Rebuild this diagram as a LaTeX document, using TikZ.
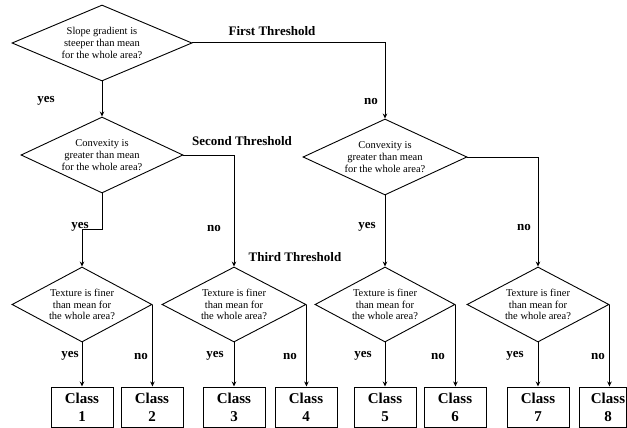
\documentclass[tikz,border=0pt]{standalone}
\usepackage{fontspec}
\setmainfont{Liberation Serif}
\usetikzlibrary{shapes.geometric,arrows.meta}
\begin{document}
\begin{tikzpicture}[x=1pt,y=-1pt,
  dia/.style={diamond, draw, line width=0.9pt, inner sep=0pt, align=center,
    font=\fontsize{10.5}{11.8}\selectfont},
  cbox/.style={draw, line width=1pt, minimum width=62pt, minimum height=40pt,
    inner sep=0pt, align=center, font=\bfseries\fontsize{15}{18}\selectfont},
  lbl/.style={font=\bfseries\fontsize{13}{15}\selectfont, inner sep=0pt},
  conn/.style={line width=1pt},
  arr/.style={conn, -{Stealth[length=5pt,width=4.5pt]}}
]
\useasboundingbox (0,0) rectangle (627,428);

% decision diamonds
\node[dia, aspect=2.37, minimum width=180pt, minimum height=76pt] (d1) at (102,43)
  {Slope gradient is\\steeper than mean\\for the whole area?};
\node[dia, aspect=2.13, minimum width=162pt, minimum height=76pt] (d2L) at (102,155)
  {Convexity is\\greater than mean\\for the whole area?};
\node[dia, aspect=2.16, minimum width=164pt, minimum height=76pt] (d2R) at (385,157)
  {Convexity is\\greater than mean\\for the whole area?};
\node[dia, aspect=1.87, minimum width=140pt, minimum height=75pt] (d3a) at (82,304.5)
  {Texture is finer\\than mean for\\the whole area?};
\node[dia, aspect=1.92, minimum width=144pt, minimum height=75pt] (d3b) at (234,304.5)
  {Texture is finer\\than mean for\\the whole area?};
\node[dia, aspect=1.87, minimum width=140pt, minimum height=75pt] (d3c) at (385,304.5)
  {Texture is finer\\than mean for\\the whole area?};
\node[dia, aspect=1.89, minimum width=142pt, minimum height=75pt] (d3d) at (538,304.5)
  {Texture is finer\\than mean for\\the whole area?};

% class boxes
\node[cbox] (c1) at (82,407) {Class\\1};
\node[cbox] (c2) at (152,407) {Class\\2};
\node[cbox] (c3) at (234,407) {Class\\3};
\node[cbox] (c4) at (306,407) {Class\\4};
\node[cbox] (c5) at (385,407) {Class\\5};
\node[cbox] (c6) at (455,407) {Class\\6};
\node[cbox] (c7) at (538,407) {Class\\7};
\node[cbox, minimum width=47pt] (c8) at (602.5,407) {\hspace*{11pt}Class\\\hspace*{11pt}8};

% connectors
\coordinate (k) at (82,229);
\draw[arr] (d1.east) -| (d2R.north);
\draw[arr] (d1.south) -- (d2L.north);
\draw[arr] (d2L.east) -| (d3b.north);
\draw[arr] (d2L.south) |- (k) -- (d3a.north);
\draw[arr] (d2R.east) -| (d3d.north);
\draw[arr] (d2R.south) -- (d3c.north);

\draw[arr] (d3a.south) -- (c1.north);
\draw[arr] (d3a.east) -- (d3a.east |- c2.north);
\draw[arr] (d3b.south) -- (c3.north);
\draw[arr] (d3b.east) -- (d3b.east |- c4.north);
\draw[arr] (d3c.south) -- (c5.north);
\draw[arr] (d3c.east) -- (d3c.east |- c6.north);
\draw[arr] (d3d.south) -- (c7.north);
\draw[arr] (d3d.east) -- (d3d.east |- c8.north);

% labels
\node[lbl] (t1) at (272,31) {First Threshold};
\node[lbl] (t2) at (242,141) {Second Threshold};
\node[lbl] (t3) at (295,257) {Third Threshold};

\node[lbl] (y1) at (46,101) {yes};
\node[lbl] (n1) at (371,102) {no};
\node[lbl] (y2) at (80,227) {yes};
\node[lbl] (n2) at (214,228) {no};
\node[lbl] (y3) at (367,227) {yes};
\node[lbl] (n3) at (524,227) {no};

\node[lbl] (y4) at (70,356) {yes};
\node[lbl] (n4) at (141,356) {no};
\node[lbl] (y5) at (215,356) {yes};
\node[lbl] (n5) at (290,356) {no};
\node[lbl] (y6) at (363,356) {yes};
\node[lbl] (n6) at (438,356) {no};
\node[lbl] (y7) at (515,356) {yes};
\node[lbl] (n7) at (598,356) {no};
\end{tikzpicture}
\end{document}
